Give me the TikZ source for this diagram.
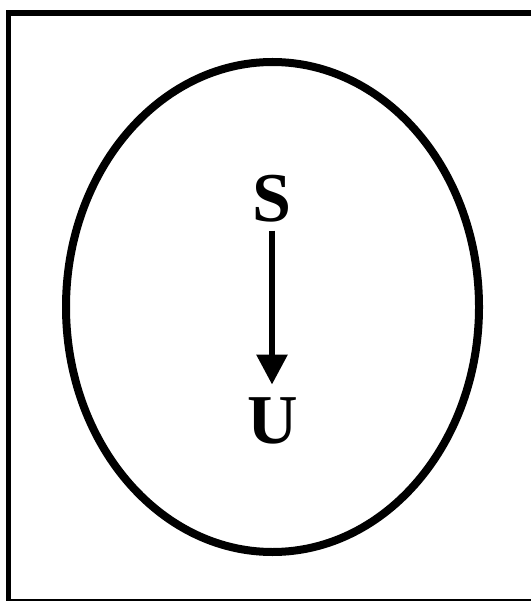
\documentclass[tikz,border=0pt]{standalone}
\usepackage{fontspec}
\setmainfont{Liberation Serif}
\usetikzlibrary{arrows.meta}

\begin{document}
\begin{tikzpicture}[x=1pt,y=-1pt,
    letter/.style={font=\fontsize{70}{76}\selectfont\bfseries,inner sep=0pt},
    flow/.style={line width=6pt,-{Triangle[length=30pt,width=30pt]}}]
  \useasboundingbox (0,0) rectangle (530,601);
  % outer frame (runs off the right and bottom edges)
  \draw[line width=5.5pt] (8.5,13) rectangle (534,602);
  % the set
  \draw[line width=8pt] (272.5,307) ellipse [x radius=206.5,y radius=245];
  \node[letter] (s) at (272,199) {S};
  \node[letter] (u) at (273,421) {U};
  \draw[flow,shorten <=8pt,shorten >=13pt] (s.south) -- (s.south |- u.north);
\end{tikzpicture}
\end{document}
